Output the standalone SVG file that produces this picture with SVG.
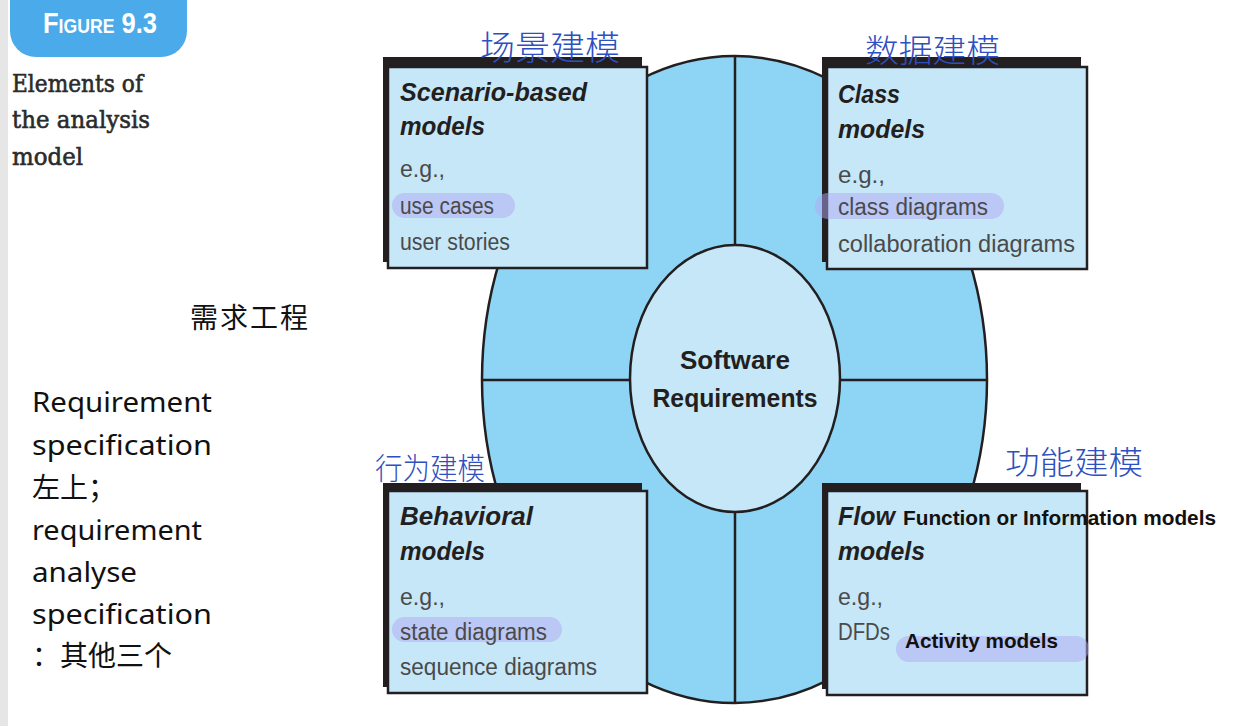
<svg xmlns="http://www.w3.org/2000/svg" width="1236" height="726" viewBox="0 0 1236 726">
<style>
.shadow{fill:#231f20}
.box{fill:#c6e7f8;stroke:#231f20;stroke-width:2.5}
.ttl{font-family:"Liberation Sans",Arial,sans-serif;font-weight:bold;font-style:italic;font-size:25px;fill:#231f20}
.cnt{font-family:"Liberation Sans",Arial,sans-serif;font-size:23px;fill:#4a4a4a}
.pill{fill:#b0a8f2;opacity:0.5}
.note{font-family:"Liberation Sans",Arial,sans-serif;font-weight:bold;font-size:21px;fill:#111}
.hand{font-family:"Noto Sans CJK SC",sans-serif;font-weight:300;fill:#2e4fbf}
.side{font-family:"Noto Sans","Noto Sans CJK SC",sans-serif;font-size:28px;fill:#111}
.line{stroke:#231f20;stroke-width:2.5;fill:none}
</style>
<rect width="1236" height="726" fill="#ffffff"/>
<rect x="0" y="0" width="8" height="726" fill="#e6e6e6"/>

<g id="figure-badge">
<rect x="10" y="-25" width="177" height="82" rx="26" fill="#4aaaea"/>
<text x="43" y="33" font-family="Liberation Sans,Arial,sans-serif" font-weight="bold" font-size="29" font-variant="small-caps" fill="#ffffff" textLength="114" lengthAdjust="spacingAndGlyphs">Figure 9.3</text>
</g>

<g id="caption" font-family="DejaVu Serif,serif" font-size="24" fill="#2b2b2b" stroke="#2b2b2b" stroke-width="0.6">
<text x="12" y="92" textLength="131" lengthAdjust="spacingAndGlyphs">Elements of</text>
<text x="12" y="128" textLength="138" lengthAdjust="spacingAndGlyphs">the analysis</text>
<text x="12" y="165" textLength="71" lengthAdjust="spacingAndGlyphs">model</text>
</g>

<g id="side-notes" class="side">
<text x="190" y="328" font-family="Noto Sans CJK SC,sans-serif" textLength="118">需求工程</text>
<text x="32" y="412" textLength="180" lengthAdjust="spacingAndGlyphs">Requirement</text>
<text x="32" y="455" textLength="180" lengthAdjust="spacingAndGlyphs">specification</text>
<text x="32" y="498" font-family="Noto Sans CJK SC,sans-serif">左上；</text>
<text x="32" y="540" textLength="170" lengthAdjust="spacingAndGlyphs">requirement</text>
<text x="32" y="582" textLength="105" lengthAdjust="spacingAndGlyphs">analyse</text>
<text x="32" y="624" textLength="180" lengthAdjust="spacingAndGlyphs">specification</text>
<text x="32" y="666" font-family="Noto Sans CJK SC,sans-serif">：其他三个</text>
</g>

<g id="outer-ring">
<ellipse cx="734.5" cy="379.5" rx="252.5" ry="323.5" fill="#8ed5f5" stroke="#231f20" stroke-width="2.5"/>
</g>

<g id="connectors">
<line class="line" x1="735" y1="56" x2="735" y2="703"/>
<line class="line" x1="482" y1="380" x2="987" y2="380"/>
</g>

<g id="software-requirements">
<ellipse cx="735" cy="378.5" rx="105" ry="133.5" fill="#c6e7f8" stroke="#231f20" stroke-width="2.5"/>
<text x="735" y="369" text-anchor="middle" font-family="Liberation Sans,Arial,sans-serif" font-weight="bold" font-size="25" fill="#231f20" textLength="110" lengthAdjust="spacingAndGlyphs">Software</text>
<text x="735" y="407" text-anchor="middle" font-family="Liberation Sans,Arial,sans-serif" font-weight="bold" font-size="25" fill="#231f20" textLength="165" lengthAdjust="spacingAndGlyphs">Requirements</text>
</g>

<g id="scenario-models">
<rect class="shadow" x="383" y="57" width="259" height="205"/>
<rect class="box" x="388" y="67" width="259" height="201"/>
<rect class="pill" x="392" y="193" width="123" height="25" rx="12.5"/>
<text class="ttl" x="400" y="101" textLength="187" lengthAdjust="spacingAndGlyphs">Scenario-based</text>
<text class="ttl" x="400" y="135" textLength="85" lengthAdjust="spacingAndGlyphs">models</text>
<text class="cnt" x="400" y="177" textLength="45" lengthAdjust="spacingAndGlyphs">e.g.,</text>
<text class="cnt" x="400" y="214" textLength="94" lengthAdjust="spacingAndGlyphs">use cases</text>
<text class="cnt" x="400" y="250" textLength="110" lengthAdjust="spacingAndGlyphs">user stories</text>
<text class="hand" x="480" y="60" font-size="34" textLength="140" lengthAdjust="spacingAndGlyphs">场景建模</text>
</g>

<g id="class-models">
<rect class="shadow" x="822" y="57" width="259" height="205"/>
<rect class="box" x="827" y="67" width="260" height="202"/>
<rect class="pill" x="815" y="193" width="189" height="26" rx="13"/>
<text class="ttl" x="838" y="103" textLength="62" lengthAdjust="spacingAndGlyphs">Class</text>
<text class="ttl" x="838" y="138" textLength="87" lengthAdjust="spacingAndGlyphs">models</text>
<text class="cnt" x="838" y="183" textLength="47" lengthAdjust="spacingAndGlyphs">e.g.,</text>
<text class="cnt" x="838" y="215" textLength="150" lengthAdjust="spacingAndGlyphs">class diagrams</text>
<text class="cnt" x="838" y="252" textLength="237" lengthAdjust="spacingAndGlyphs">collaboration diagrams</text>
<text class="hand" x="865" y="62" font-size="32" textLength="135" lengthAdjust="spacingAndGlyphs">数据建模</text>
</g>

<g id="behavioral-models">
<rect class="shadow" x="383" y="483" width="259" height="204"/>
<rect class="box" x="388" y="491" width="259" height="202"/>
<rect class="pill" x="392" y="617" width="170" height="25" rx="12.5"/>
<text class="ttl" x="400" y="525" textLength="133" lengthAdjust="spacingAndGlyphs">Behavioral</text>
<text class="ttl" x="400" y="560" textLength="85" lengthAdjust="spacingAndGlyphs">models</text>
<text class="cnt" x="400" y="605" textLength="45" lengthAdjust="spacingAndGlyphs">e.g.,</text>
<text class="cnt" x="400" y="640" textLength="147" lengthAdjust="spacingAndGlyphs">state diagrams</text>
<text class="cnt" x="400" y="675" textLength="197" lengthAdjust="spacingAndGlyphs">sequence diagrams</text>
<text class="hand" x="375" y="479" font-size="30" textLength="110" lengthAdjust="spacingAndGlyphs">行为建模</text>
</g>

<g id="flow-models">
<rect class="shadow" x="822" y="483" width="259" height="206"/>
<rect class="box" x="827" y="491" width="260" height="204"/>
<rect class="pill" x="896" y="636" width="193" height="26" rx="13"/>
<text class="ttl" x="838" y="525" textLength="57" lengthAdjust="spacingAndGlyphs">Flow</text>
<text class="ttl" x="838" y="560" textLength="87" lengthAdjust="spacingAndGlyphs">models</text>
<text class="cnt" x="838" y="605" textLength="45" lengthAdjust="spacingAndGlyphs">e.g.,</text>
<text class="cnt" x="838" y="640" textLength="52" lengthAdjust="spacingAndGlyphs">DFDs</text>
<text class="note" x="903" y="525" textLength="313" lengthAdjust="spacingAndGlyphs">Function or Information models</text>
<text class="note" x="905" y="648" textLength="153" lengthAdjust="spacingAndGlyphs">Activity models</text>
<text class="hand" x="1005" y="474" font-size="32" textLength="138" lengthAdjust="spacingAndGlyphs">功能建模</text>
</g>
</svg>
